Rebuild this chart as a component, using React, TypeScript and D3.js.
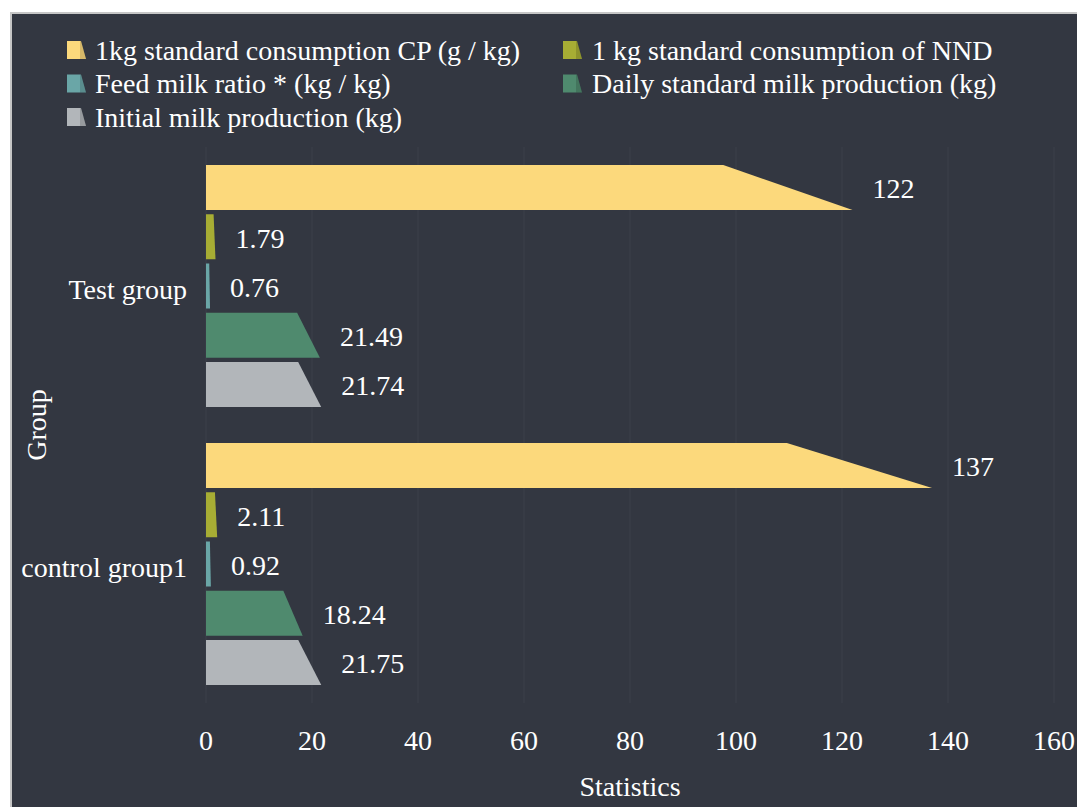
import React from "react";
import * as d3 from "d3";

const groups = ["Test group", "control group1"];
const seriesNames = [
  "1kg standard consumption CP (g / kg)",
  "1 kg standard consumption of NND",
  "Feed milk ratio * (kg / kg)",
  "Daily standard milk production (kg)",
  "Initial milk production (kg)",
];
const cpValues = [122, 137];
const nndValues = [1.79, 2.11];
const ratioValues = [0.76, 0.92];
const dailyValues = [21.49, 18.24];
const initialValues = [21.74, 21.75];
const xTicks = [0, 20, 40, 60, 80, 100, 120, 140, 160];
const colors = ["#fcd97c", "#a7ad34", "#6aa6a7", "#4f8a6e", "#b2b6ba"];

const seriesValues = [cpValues, nndValues, ratioValues, dailyValues, initialValues];

const W = 1077;
const H = 807;
const FONT = "'Liberation Serif', serif";
const FS = 28;

export default function App() {
  const x = d3.scaleLinear().domain([0, 160]).range([206, 1054]);
  const y0 = d3.scaleBand<string>().domain(groups).range([147, 703]).paddingInner(0).paddingOuter(0);
  const pad = 18;
  const y1 = d3
    .scaleBand<number>()
    .domain(d3.range(seriesNames.length))
    .range([pad, y0.bandwidth() - pad])
    .paddingInner(0.085)
    .paddingOuter(0);

  const legendItems = seriesNames.map((name, i) => {
    const col = i % 2;
    const row = Math.floor(i / 2);
    return { name, i, ix: col === 0 ? 67 : 563, tx: col === 0 ? 95 : 592, cy: 50 + row * 33.5 };
  });

  return (
    <svg
      width={W}
      height={H}
      style={{ position: "absolute", left: 0, top: 0, display: "block", fontFamily: FONT }}
    >
      <rect x={0} y={0} width={W} height={H} fill="#ffffff" />
      <rect x={11} y={13} width={W - 10} height={H} fill="#333741" stroke="#c6c6c6" strokeWidth={2} />

      {/* grid */}
      {xTicks.map((t) => (
        <line key={t} x1={x(t)} x2={x(t)} y1={147} y2={703} stroke="#3d414b" strokeWidth={1} />
      ))}

      {/* bars */}
      {groups.map((g, gi) => (
        <g key={g} transform={`translate(0,${y0(g)})`}>
          {seriesValues.map((vals, si) => {
            const v = vals[gi];
            const yy = y1(si)!;
            const h = y1.bandwidth();
            const x0 = x(0);
            const w = x(v) - x0;
            const pts = [
              [x0, yy],
              [x0 + w * 0.8, yy],
              [x0 + w, yy + h],
              [x0, yy + h],
            ]
              .map((p) => p.join(","))
              .join(" ");
            return (
              <g key={si}>
                <polygon points={pts} fill={colors[si]} />
                <text
                  x={x(v) + 20}
                  y={yy + h / 2 + 1}
                  dy="0.35em"
                  fill="#ffffff"
                  fontSize={FS}
                  fontFamily={FONT}
                >
                  {String(v)}
                </text>
              </g>
            );
          })}
          <text
            x={187}
            y={y0.bandwidth() / 2 + 3}
            dy="0.35em"
            textAnchor="end"
            fill="#ffffff"
            fontSize={FS}
            fontFamily={FONT}
          >
            {g}
          </text>
        </g>
      ))}

      {/* x tick labels */}
      {xTicks.map((t) => (
        <text key={t} x={x(t)} y={740} dy="0.35em" textAnchor="middle" fill="#ffffff" fontSize={FS} fontFamily={FONT}>
          {t}
        </text>
      ))}

      <text x={630} y={786} dy="0.35em" textAnchor="middle" fill="#ffffff" fontSize={FS} fontFamily={FONT}>
        Statistics
      </text>
      <text
        transform="translate(36,425) rotate(-90)"
        dy="0.35em"
        textAnchor="middle"
        fill="#ffffff"
        fontSize={FS}
        fontFamily={FONT}
      >
        Group
      </text>

      {/* legend */}
      {legendItems.map((it) => (
        <g key={it.i}>
          <polygon
            points={`${it.ix},${it.cy - 9} ${it.ix + 14},${it.cy - 9} ${it.ix + 19},${it.cy + 9} ${it.ix},${it.cy + 9}`}
            fill={colors[it.i]}
          />
          <polygon
            points={`${it.ix + 13},${it.cy - 9} ${it.ix + 14},${it.cy - 9} ${it.ix + 19},${it.cy + 9} ${it.ix + 13},${it.cy + 9}`}
            fill="#000"
            opacity={0.15}
          />
          <text x={it.tx} y={it.cy} dy="0.35em" fill="#ffffff" fontSize={FS} fontFamily={FONT}>
            {it.name}
          </text>
        </g>
      ))}
    </svg>
  );
}
